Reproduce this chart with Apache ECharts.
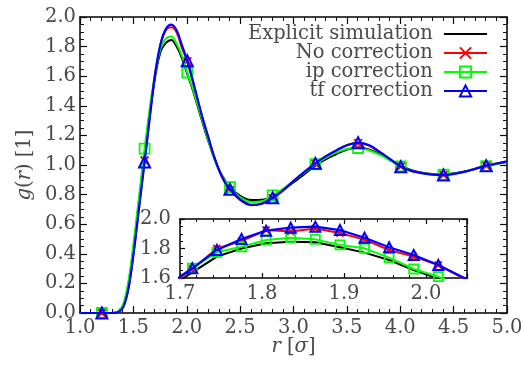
<!DOCTYPE html>
<html>
<head>
<meta charset="utf-8">
<script src="https://cdn.jsdelivr.net/npm/echarts@6.0.0/dist/echarts.min.js"></script>
<style>
  html, body { margin: 0; padding: 0; background: #fff; }
  #chart { width: 521px; height: 365px; }
</style>
</head>
<body>
<div id="chart"></div>
<script>
// Radial distribution function g(r), full range (main panel)
const R = [1.005, 1.105, 1.205, 1.305, 1.355, 1.405, 1.455, 1.505, 1.555, 1.605,
  1.655, 1.705, 1.755, 1.805, 1.855, 1.905, 1.955, 2.005, 2.055, 2.105,
  2.155, 2.205, 2.255, 2.305, 2.355, 2.405, 2.505, 2.605, 2.705, 2.805,
  2.905, 3.005, 3.105, 3.205, 3.305, 3.405, 3.505, 3.605, 3.705, 3.805,
  3.905, 4.005, 4.105, 4.205, 4.305, 4.405, 4.505, 4.605, 4.705, 4.805,
  4.905, 5.005];

const gExplicit = [0, 0, 0, 0, 0.008, 0.05, 0.2, 0.46, 0.77, 1.07,
  1.36, 1.60, 1.765, 1.825, 1.845, 1.80, 1.722, 1.615, 1.51, 1.39,
  1.27, 1.155, 1.05, 0.965, 0.90, 0.85, 0.79, 0.763, 0.765, 0.79,
  0.835, 0.885, 0.94, 0.995, 1.04, 1.075, 1.105, 1.12, 1.105, 1.075,
  1.035, 0.995, 0.965, 0.948, 0.94, 0.938, 0.945, 0.957, 0.975, 0.993,
  1.008, 1.022];

const gNoCorr = [0, 0, 0, 0, 0.005, 0.04, 0.17, 0.42, 0.73, 1.03,
  1.33, 1.615, 1.815, 1.912, 1.93, 1.895, 1.79, 1.70, 1.57, 1.43,
  1.30, 1.18, 1.06, 0.96, 0.885, 0.83, 0.76, 0.728, 0.737, 0.775,
  0.83, 0.895, 0.955, 1.01, 1.06, 1.10, 1.135, 1.148, 1.132, 1.088,
  1.04, 0.99, 0.96, 0.946, 0.936, 0.933, 0.94, 0.955, 0.975, 0.995,
  1.01, 1.025];

const gIp = [0, 0, 0, 0, 0.01, 0.06, 0.22, 0.49, 0.80, 1.11,
  1.39, 1.625, 1.788, 1.855, 1.868, 1.82, 1.738, 1.625, 1.52, 1.40,
  1.28, 1.16, 1.05, 0.96, 0.895, 0.85, 0.78, 0.75, 0.755, 0.795,
  0.84, 0.895, 0.95, 1.005, 1.05, 1.085, 1.11, 1.115, 1.10, 1.07,
  1.03, 0.99, 0.962, 0.946, 0.938, 0.935, 0.942, 0.955, 0.975, 0.993,
  1.008, 1.022];

const gTf = [0, 0, 0, 0, 0.005, 0.04, 0.17, 0.42, 0.72, 1.02,
  1.33, 1.625, 1.82, 1.92, 1.948, 1.91, 1.81, 1.705, 1.575, 1.435,
  1.30, 1.18, 1.06, 0.96, 0.885, 0.836, 0.765, 0.73, 0.74, 0.779,
  0.83, 0.895, 0.955, 1.011, 1.06, 1.10, 1.135, 1.15, 1.135, 1.09,
  1.04, 0.989, 0.96, 0.945, 0.935, 0.932, 0.94, 0.955, 0.975, 0.995,
  1.01, 1.025];

// positions of the point markers in the main panel
const MAIN_MARKS = [1.205, 1.605, 2.005, 2.405, 2.805, 3.205, 3.605, 4.005, 4.405, 4.805];

// First peak, close-up (inset panel)
const RI = [1.685, 1.715, 1.745, 1.775, 1.805, 1.835, 1.865, 1.895, 1.925, 1.955,
  1.985, 2.015, 2.045, 2.075];
const INSET_MARKS = [1.715, 1.745, 1.775, 1.805, 1.835, 1.865, 1.895, 1.925, 1.955, 1.985, 2.015];
const iExplicit = [1.53, 1.638, 1.745, 1.80, 1.835, 1.846, 1.842, 1.808, 1.772, 1.722,
  1.654, 1.595, 1.53, 1.46];
const iNoCorr = [1.54, 1.66, 1.80, 1.85, 1.925, 1.915, 1.935, 1.905, 1.86, 1.79,
  1.745, 1.688, 1.60, 1.52];
const iIp = [1.55, 1.666, 1.774, 1.812, 1.858, 1.873, 1.862, 1.824, 1.801, 1.738,
  1.661, 1.609, 1.54, 1.46];
const iTf = [1.55, 1.666, 1.79, 1.864, 1.921, 1.941, 1.948, 1.925, 1.873, 1.808,
  1.756, 1.688, 1.605, 1.52];

const NAMES = ['Explicit simulation', 'No correction', 'ip correction', 'tf correction'];

const FONT = 'DejaVu Serif';
const TXT = '#4a4a4a';
const FS = 19.5;

// frame, major tick and minor tick colours are kept distinct so each group strokes separately
const FRAME = '#000000';
const MAJOR = '#0b0b0b';
const MINOR = '#161616';

const STYLES = [
  { symbol: 'none', color: '#000000', width: 2 },
  { symbol: 'path://M0,0L10,10M0,10L10,0', size: 8, color: '#ff0000', width: 2, bw: 2 },
  { symbol: 'rect', size: 10, color: '#00ff00', width: 2, bw: 1.8 },
  { symbol: 'triangle', size: 11, color: '#0000ff', width: 2.2, bw: 2 }
];

const inList = (list, r) => list.some(m => Math.abs(m - r) < 1e-9);

function points(rs, g, marks) {
  return rs.map((r, i) => (marks && inList(marks, r)) ? [r, g[i]] : { value: [r, g[i]], symbol: 'none' });
}

function makeSeries(k, data, inset) {
  const st = STYLES[k];
  return {
    name: NAMES[k],
    type: 'line',
    xAxisIndex: inset ? 2 : 0,
    yAxisIndex: inset ? 2 : 0,
    data: data,
    smooth: inset ? false : 0.35,
    symbol: st.symbol,
    symbolSize: inset ? (st.size || 0) - 1 : st.size,
    showSymbol: st.symbol !== 'none',
    showAllSymbol: true,
    lineStyle: { color: st.color, width: st.width },
    itemStyle: { color: 'transparent', borderColor: st.color, borderWidth: st.bw || 0 },
    emphasis: { disabled: true },
    animation: false,
    z: 2 + k
  };
}

const mainSets = [gExplicit, gNoCorr, gIp, gTf];
const insetSets = [iExplicit, iNoCorr, iIp, iTf];

const series = [];
mainSets.forEach((g, k) => series.push(makeSeries(k, points(R, g, k > 0 ? MAIN_MARKS : null), false)));
insetSets.forEach((g, k) => series.push(makeSeries(k, points(RI, g, k > 0 ? INSET_MARKS : null), true)));

const labelStyle = { fontFamily: FONT, fontSize: FS, color: TXT };
const rich = { i: { fontFamily: FONT, fontSize: FS, color: TXT, fontStyle: 'italic' } };

function valueAxis(o) {
  const a = {
    type: 'value',
    gridIndex: o.grid,
    min: o.min, max: o.max, interval: o.interval,
    position: o.position,
    axisLine: { show: true, onZero: false, lineStyle: { color: FRAME, width: 1.5 } },
    axisTick: { show: true, inside: true, length: o.tick, lineStyle: { color: MAJOR, width: 1.2 } },
    minorTick: { show: true, splitNumber: o.minor, length: o.minorLen, lineStyle: { color: MINOR, width: 1 } },
    splitLine: { show: false },
    minorSplitLine: { show: false },
    axisLabel: o.label ? Object.assign({
      show: true, margin: o.margin, showMaxLabel: o.showMax !== false, showMinLabel: true,
      formatter: v => v.toFixed(1)
    }, labelStyle) : { show: false }
  };
  if (o.name) {
    a.name = o.name;
    a.nameLocation = 'middle';
    a.nameGap = o.nameGap;
    a.nameMoveOverlap = false;
    a.nameTextStyle = Object.assign({ rich: rich }, labelStyle);
  }
  return a;
}

const option = {
  backgroundColor: '#ffffff',
  animation: false,
  grid: [
    { left: 80, top: 17, width: 427, height: 296, containLabel: false, outerBoundsMode: 'none' },
    { left: 180, top: 219, width: 287, height: 59, containLabel: false, outerBoundsMode: 'none' }
  ],
  xAxis: [
    valueAxis({ grid: 0, min: 1, max: 5, interval: 0.5, position: 'bottom', tick: 7, minor: 5, minorLen: 4,
      label: true, margin: 5, name: '{i|r} [{i|σ}]', nameGap: 24 }),
    valueAxis({ grid: 0, min: 1, max: 5, interval: 0.5, position: 'top', tick: 7, minor: 5, minorLen: 4, label: false }),
    valueAxis({ grid: 1, min: 1.7, max: 2.05, interval: 0.1, position: 'bottom', tick: 5, minor: 5, minorLen: 3,
      label: true, margin: 6, showMax: false }),
    valueAxis({ grid: 1, min: 1.7, max: 2.05, interval: 0.1, position: 'top', tick: 5, minor: 5, minorLen: 3, label: false })
  ],
  yAxis: [
    valueAxis({ grid: 0, min: 0, max: 2, interval: 0.2, position: 'left', tick: 7, minor: 4, minorLen: 4,
      label: true, margin: 4, name: '{i|g}({i|r}) [1]', nameGap: 45 }),
    valueAxis({ grid: 0, min: 0, max: 2, interval: 0.2, position: 'right', tick: 7, minor: 4, minorLen: 4, label: false }),
    valueAxis({ grid: 1, min: 1.6, max: 2.0, interval: 0.2, position: 'left', tick: 5, minor: 4, minorLen: 3,
      label: true, margin: 9 }),
    valueAxis({ grid: 1, min: 1.6, max: 2.0, interval: 0.2, position: 'right', tick: 5, minor: 4, minorLen: 3, label: false })
  ],
  legend: {
    orient: 'vertical',
    align: 'right',
    right: 33,
    top: 24,
    padding: 0,
    itemGap: -1,
    itemWidth: 43,
    itemHeight: 14,
    selectedMode: false,
    formatter: name => name + ' ',
    textStyle: labelStyle,
    data: [
      { name: NAMES[0], icon: 'path://M0,0H40V2H0Z', itemStyle: { color: '#000', borderWidth: 0 } },
      NAMES[1], NAMES[2], NAMES[3]
    ]
  },
  series: series
};

const chart = echarts.init(document.getElementById('chart'), null, { renderer: 'canvas' });
chart.setOption(option);
</script>
</body>
</html>
